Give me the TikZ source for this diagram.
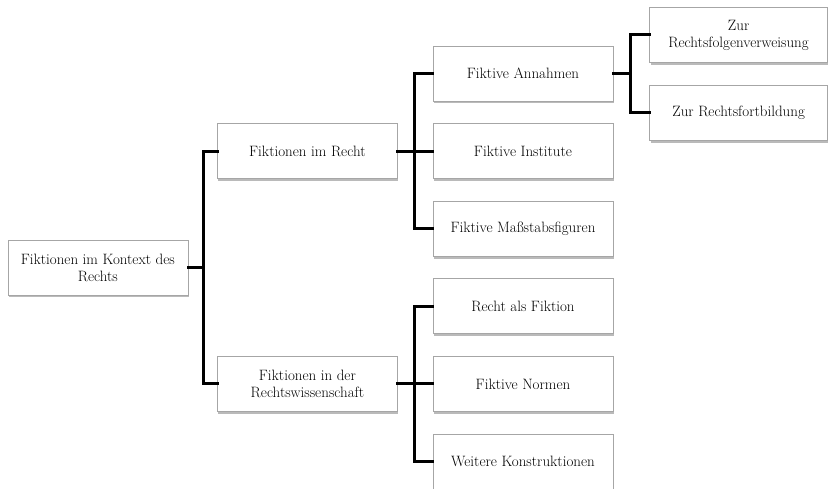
\documentclass[tikz,border=0pt]{standalone}
\usepackage{tikz}
\usetikzlibrary{positioning,shadows,calc}
\tikzset{
    fictbox/.style={draw=black!35, line width=0.6pt, fill=white, minimum width=180pt, minimum height=55pt, inner sep=2pt, align=center, font=\fontsize{15}{17}\selectfont, drop shadow={shadow xshift=1pt, shadow yshift=-2.5pt, opacity=0.45, fill=black!60}},
    branch/.style={line width=3pt, black, line cap=rect}
}
\begin{document}
\begin{tikzpicture}[x=1pt, y=1pt, node distance=22pt]
    \useasboundingbox (0,0) rectangle (828,489);
    \node[fictbox] (fa) at (523,415.5) {Fiktive Annahmen};
    \node[fictbox, below=of fa] (fi) {Fiktive Institute};
    \node[fictbox, below=of fi] (fm) {Fiktive Maßstabsfiguren};
    \node[fictbox, below=of fm] (rf) {Recht als Fiktion};
    \node[fictbox, below=of rf] (fn) {Fiktive Normen};
    \node[fictbox, below=of fn] (wk) {Weitere Konstruktionen};

    \node[fictbox, left=35pt of fi] (fr) {Fiktionen im Recht};
    \node[fictbox, left=35pt of fn] (frw) {Fiktionen in der\\Rechtswissenschaft};
    \node[fictbox, anchor=east] (root) at ($(fr.west)!0.5!(frw.west)+(-29,0)$) {Fiktionen im Kontext des\\Rechts};

    \node[fictbox, minimum width=178pt, right=36pt of fa, yshift=38.5pt] (zrv) {Zur\\Rechtsfolgenverweisung};
    \node[fictbox, minimum width=178pt, below=of zrv] (zrf) {Zur Rechtsfortbildung};

    \draw[branch] (root.east) -- ++(15,0) |- (fr.west);
    \draw[branch] (root.east) -- ++(15,0) |- (frw.west);
    \foreach \kid in {fa,fi,fm}
        \draw[branch] (fr.east) -- ++(17,0) |- (\kid.west);
    \foreach \kid in {rf,fn,wk}
        \draw[branch] (frw.east) -- ++(17,0) |- (\kid.west);
    \draw[branch] (fa.east) -- ++(17,0) |- (zrv.west);
    \draw[branch] (fa.east) -- ++(17,0) |- (zrf.west);
\end{tikzpicture}
\end{document}
